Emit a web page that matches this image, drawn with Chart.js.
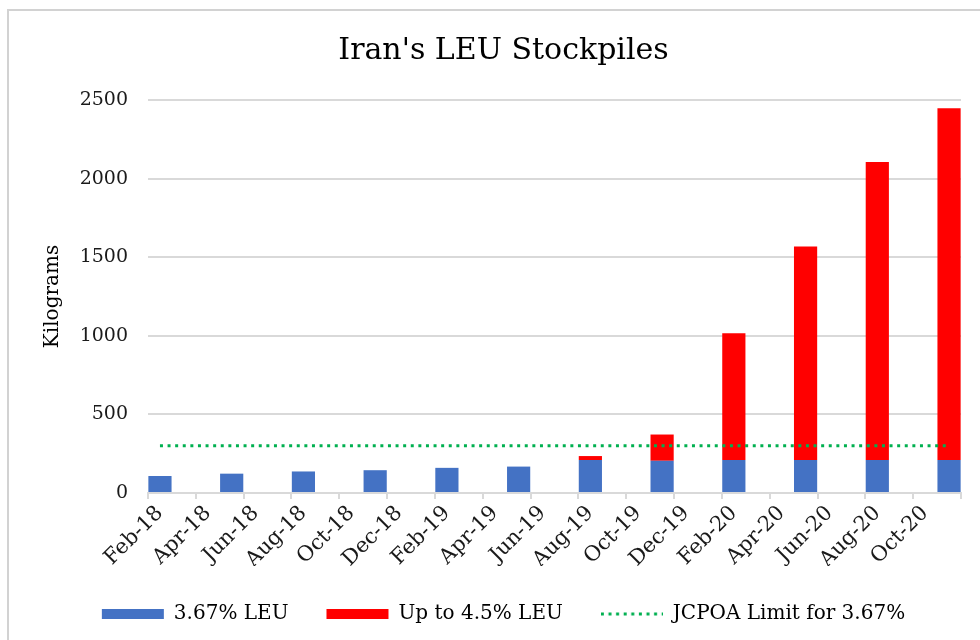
<!DOCTYPE html>
<html>
<head>
<meta charset="utf-8">
<title>Iran's LEU Stockpiles</title>
<script src="https://cdn.jsdelivr.net/npm/chart.js@4.4.1/dist/chart.umd.min.js"></script>
<style>
  body { margin: 0; background: #fff; }
  #wrap { position: relative; width: 980px; height: 640px; overflow: hidden; }
  #frame { position: absolute; left: 7px; top: 9px; width: 1000px; height: 700px;
           border-left: 2px solid #d2d2d2; border-top: 2px solid #d2d2d2; }
  canvas { position: absolute; left: 0; top: 0; }
</style>
</head>
<body>
<div id="wrap">
  <div id="frame"></div>
  <canvas id="leuChart" width="980" height="640"></canvas>
</div>
<script>
// monthly slots of the date axis (labels shown every second month)
const months = [
  'Feb-18', 'Mar-18', 'Apr-18', 'May-18', 'Jun-18', 'Jul-18', 'Aug-18', 'Sep-18', 'Oct-18', 'Nov-18', 'Dec-18',
  'Jan-19', 'Feb-19', 'Mar-19', 'Apr-19', 'May-19', 'Jun-19', 'Jul-19', 'Aug-19', 'Sep-19', 'Oct-19', 'Nov-19', 'Dec-19',
  'Jan-20', 'Feb-20', 'Mar-20', 'Apr-20', 'May-20', 'Jun-20', 'Jul-20', 'Aug-20', 'Sep-20', 'Oct-20', 'Nov-20'
];

// IAEA report dates and stockpiles (kg)
const reportMonths = ['Feb-18', 'May-18', 'Aug-18', 'Nov-18', 'Feb-19', 'May-19', 'Aug-19', 'Nov-19', 'Feb-20', 'May-20', 'Aug-20', 'Nov-20'];
const leu367 = [108, 123, 137, 145, 160, 168, 210, 205, 210, 210, 210, 210];
const leu45 = [0, 0, 0, 0, 0, 0, 25, 167, 806, 1358, 1895, 2237];
const jcpoaLimit = [300, 300, 300, 300, 300, 300, 300, 300, 300, 300, 300, 300];

const yTicks = [0, 500, 1000, 1500, 2000, 2500];

function onMonths(values) {
    return months.map(m => {
        const i = reportMonths.indexOf(m);
        return i >= 0 ? values[i] : null;
    });
}

// dotted legend symbol for the limit line
function dottedSymbol(color) {
    const c = document.createElement('canvas');
    c.width = 62;
    c.height = 6;
    const g = c.getContext('2d');
    g.strokeStyle = color;
    g.lineWidth = 3;
    g.setLineDash([3, 4.6]);
    g.beginPath();
    g.moveTo(0, 3);
    g.lineTo(62, 3);
    g.stroke();
    return c;
}

Chart.defaults.font.family = "'DejaVu Serif', serif";
Chart.defaults.color = '#1a1a1a';

const gridColor = '#d9d9d9';

new Chart(document.getElementById('leuChart'), {
    type: 'bar',
    data: {
        labels: months,
        datasets: [
            {
                label: '3.67% LEU',
                data: onMonths(leu367),
                backgroundColor: '#4472C4',
                borderWidth: 0,
                pointStyle: 'rect',
                stack: 'leu',
                order: 2
            },
            {
                label: 'Up to 4.5% LEU',
                data: onMonths(leu45),
                backgroundColor: '#FF0000',
                borderWidth: 0,
                pointStyle: 'rect',
                stack: 'leu',
                order: 2
            },
            {
                type: 'line',
                label: 'JCPOA Limit for 3.67%',
                data: onMonths(jcpoaLimit),
                borderColor: '#00B050',
                backgroundColor: '#00B050',
                borderWidth: 3,
                borderDash: [3, 4.6],
                pointRadius: 0,
                pointStyle: dottedSymbol('#00B050'),
                spanGaps: true,
                stack: 'limit',
                order: 1
            }
        ]
    },
    options: {
        responsive: false,
        animation: false,
        datasets: {
            bar: { categoryPercentage: 0.97, barPercentage: 1 }
        },
        layout: { padding: { left: 46, right: 19, top: 0, bottom: 6 } },
        plugins: {
            title: {
                display: true,
                text: "Iran's LEU Stockpiles",
                color: '#000',
                font: { size: 30, weight: 'normal' },
                padding: { top: 33, bottom: 31 }
            },
            legend: {
                position: 'bottom',
                labels: {
                    usePointStyle: true,
                    pointStyleWidth: 62,
                    boxHeight: 10,
                    padding: 38,
                    color: '#000',
                    font: { size: 20 },
                    sort: (a, b) => a.datasetIndex - b.datasetIndex
                }
            },
            tooltip: { enabled: false }
        },
        scales: {
            x: {
                stacked: true,
                offset: true,
                border: { display: true, color: gridColor, width: 2 },
                grid: {
                    offset: true,
                    drawOnChartArea: false,
                    drawTicks: true,
                    tickLength: 6,
                    lineWidth: 2,
                    tickColor: ctx => (ctx.index === undefined || ctx.index % 2 === 0) ? gridColor : 'rgba(0,0,0,0)'
                },
                ticks: {
                    autoSkip: false,
                    minRotation: 45,
                    maxRotation: 45,
                    padding: 2,
                    font: { size: 21 },
                    callback: (v, i) => i % 2 === 0 ? months[i] : ''
                },
                afterFit: scale => {
                    scale.height = 73;
                    scale.paddingLeft = 0;
                    scale.paddingRight = 0;
                }
            },
            y: {
                stacked: true,
                min: 0,
                max: 2500,
                border: { display: false },
                grid: { color: gridColor, lineWidth: 2, drawTicks: false },
                ticks: {
                    stepSize: 500,
                    padding: 20,
                    font: { size: 19 },
                    callback: v => yTicks.includes(v) ? v : ''
                },
                title: {
                    display: true,
                    text: 'Kilograms',
                    color: '#000',
                    font: { size: 20 },
                    padding: { top: -5, bottom: 0 }
                },
                afterFit: scale => { scale.width = 102; }
            }
        }
    }
});
</script>
</body>
</html>
